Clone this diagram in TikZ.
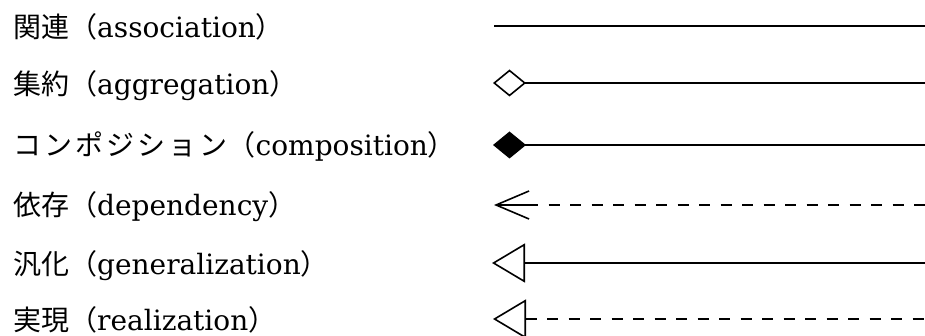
\documentclass[tikz,border=0pt]{standalone}
\usepackage{fontspec}
\setmainfont{DejaVu Serif}
\newfontfamily\jpfont{Noto Sans CJK JP}
\newfontfamily\jpwidefont[LetterSpace=11]{Noto Sans CJK JP}
\usetikzlibrary{arrows.meta}

% Japanese term followed by its English name in full-width parentheses
\newcommand{\umlterm}[2]{{\jpfont #1（}#2{\jpfont ）}}
\newcommand{\umltermwide}[2]{{\jpwidefont #1}{\jpfont （}#2{\jpfont ）}}

\tikzset{
  termlabel/.style={anchor=base west, inner sep=0pt,
    font=\fontsize{28}{32}\selectfont},
  conn/.style={line width=1.5pt},
  dashconn/.style={conn, dash pattern=on 11pt off 10.5pt},
  opendiamond/.style={{Diamond[open, length=33pt, width=27pt, line width=1.6pt]}-},
  filleddiamond/.style={{Diamond[length=33pt, width=27pt, line width=1.2pt]}-},
  opentriangle/.style={{Triangle[open, length=33pt, width=39pt, line width=1.6pt]}-},
  barb/.style={{Straight Barb[length=33pt, width=28pt, line width=1.6pt]}-},
}

\begin{document}
\begin{tikzpicture}[x=1pt, y=-1pt]
  \useasboundingbox (0,0) rectangle (925,336);

  % labels
  \node[termlabel] (t1) at (13,38)  {\umlterm{関連}{association}};
  \node[termlabel] (t2) at (13,95)  {\umlterm{集約}{aggregation}};
  \node[termlabel] (t3) at (13,156) {\umltermwide{コンポジション}{composition}};
  \node[termlabel] (t4) at (13,216) {\umlterm{依存}{dependency}};
  \node[termlabel] (t5) at (13,275) {\umlterm{汎化}{generalization}};
  \node[termlabel] (t6) at (13,330) {\umlterm{実現}{realization}};

  % line ends
  \coordinate (a1) at (494,26);  \coordinate (b1) at (925,26);
  \coordinate (a2) at (493,83);  \coordinate (b2) at (925,83);
  \coordinate (a3) at (493,145); \coordinate (b3) at (925,145);
  \coordinate (a4) at (494,205); \coordinate (m4) at (527,205); \coordinate (b4) at (925,205);
  \coordinate (a5) at (492,263); \coordinate (b5) at (925,263);
  \coordinate (a6) at (493,319); \coordinate (b6) at (925,319);

  % association
  \draw[conn] (a1) -- (b1);
  % aggregation
  \draw[conn, opendiamond] (a2) -- (b2);
  % composition
  \draw[conn, filleddiamond] (a3) -- (b3);
  % dependency
  \draw[conn, barb] (a4) -- (m4);
  \draw[dashconn] (m4) -- (b4);
  % generalization
  \draw[conn, opentriangle] (a5) -- (b5);
  % realization
  \draw[dashconn, opentriangle] (a6) -- (b6);
\end{tikzpicture}
\end{document}
